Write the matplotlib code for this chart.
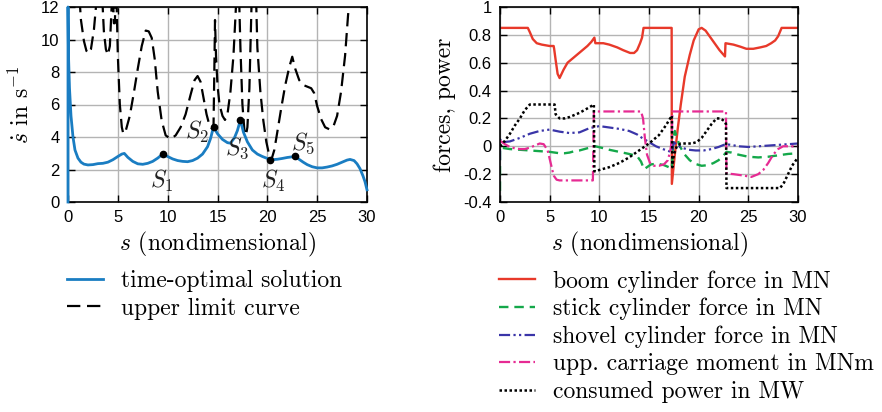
import numpy as np
import matplotlib
matplotlib.use('Agg')
import matplotlib.pyplot as plt

plt.rcParams['mathtext.fontset'] = 'cm'
plt.rcParams['axes.unicode_minus'] = False

# ---- left plot: time-optimal solution and upper limit curve
s_opt = [0, 0, 0.05, 0.15, 0.3, 0.5, 0.7, 1.0, 1.3, 1.6, 2.0, 2.5, 3.0, 3.5, 4.0, 4.5, 5.0, 5.4, 5.65,
         6.0, 6.5, 7.0, 7.5, 8.0, 8.5, 9.0, 9.5, 10.0, 10.5, 11.0, 11.5, 12.0, 12.5, 13.0, 13.5, 14.0,
         14.3, 14.6, 15.0, 15.5, 16.0, 16.3, 16.7, 17.0, 17.3, 17.6, 18.0, 18.5, 19.0, 19.5, 20.0, 20.4,
         21.0, 21.5, 22.0, 22.5, 22.8, 23.2, 23.6, 24.0, 24.5, 25.0, 25.5, 26.0, 26.5, 27.0, 27.5, 28.0,
         28.3, 28.7, 29.0, 29.3, 29.6, 29.8, 30.0]
v_opt = [0, 12, 9.0, 7.0, 5.3, 4.0, 3.2, 2.7, 2.45, 2.33, 2.28, 2.3, 2.36, 2.38, 2.45, 2.6, 2.8, 2.95, 2.99,
         2.75, 2.5, 2.35, 2.32, 2.38, 2.5, 2.7, 2.95, 2.8, 2.65, 2.55, 2.5, 2.48, 2.55, 2.7, 2.95, 3.4,
         3.9, 4.62, 4.2, 3.85, 3.65, 3.62, 3.95, 4.4, 5.05, 4.3, 3.7, 3.2, 2.95, 2.8, 2.68, 2.6,
         2.63, 2.68, 2.74, 2.78, 2.83, 2.62, 2.45, 2.3, 2.17, 2.1, 2.1, 2.15, 2.22, 2.32, 2.45, 2.58,
         2.62, 2.55, 2.35, 2.05, 1.6, 1.25, 0.75]

s_lim = [1.1, 1.3, 1.6, 1.85, 2.05, 2.3, 2.6, 2.95, np.nan,
         3.4, 3.6, 3.8, 4.0, 4.2, 4.45, np.nan,
         4.5, 4.6, 4.7, 4.8, np.nan,
         4.85, 5.0, 5.2, 5.4, 5.55, 5.8, 6.2, 6.6, 7.0, 7.4, 7.8, 8.1, 8.4, 8.7, 9.0, 9.4, 9.8,
         10.3, 10.8, 11.3, 11.8, 12.3, 12.7, 13.0, 13.3, 13.6, 13.9, 14.2, 14.45, 14.6,
         14.68, 14.75, 14.85, 15.0, 15.2, 15.5, 15.75, 16.0, 16.3, 16.6, 16.85, 17.0, np.nan,
         17.15, 17.3, 17.5, 17.7, 17.85, 18.0, 18.2, 18.45, np.nan,
         18.85, 19.0, 19.3, 19.6, 19.9, 20.2, 20.4, 20.7, 21.0, 21.4, 21.8, 22.2, 22.5, 22.8, 23.2,
         23.6, 24.0, 24.4, 24.7, 25.0, 25.4, 25.8, 26.2, 26.6, 27.0, 27.4, 27.8, 28.1, 28.35]
v_lim = [13, 11.2, 9.9, 9.3, 9.15, 9.4, 10.6, 13, np.nan,
         13, 10.5, 9.4, 9.05, 9.6, 13, np.nan,
         13, 11.0, 11.0, 13, np.nan,
         13, 9.0, 6.0, 4.6, 4.2, 4.4, 5.3, 6.7, 8.2, 9.6, 10.55, 10.5, 10.1, 8.8, 6.8, 5.0, 4.1,
         3.88, 4.1, 4.6, 5.4, 6.6, 7.5, 7.75, 7.4, 6.4, 5.4, 4.7, 4.5, 4.63,
         8.0, 11.2, 9.0, 7.2, 6.0, 5.3, 5.05, 5.4, 6.8, 9.0, 12, 13, np.nan,
         13, 9.5, 6.0, 4.4, 4.1, 4.6, 7.0, 13, np.nan,
         13, 9.5, 6.8, 5.0, 3.7, 2.85, 2.58, 3.2, 4.3, 5.8, 7.2, 8.3, 8.94, 8.2, 7.5,
         7.2, 7.1, 7.0, 6.7, 5.9, 5.1, 4.6, 4.48, 4.6, 5.3, 6.8, 9.0, 11.5, 13]

pt_s = [9.5, 14.6, 17.3, 20.3, 22.8]
pt_v = [2.95, 4.62, 5.05, 2.6, 2.83]
pt_names = ['$S_1$', '$S_2$', '$S_3$', '$S_4$', '$S_5$']
pt_text = [(9.4, 1.3), (12.9, 4.3), (17.0, 3.3), (20.6, 1.3), (23.6, 3.6)]

# ---- right plot: forces and power
s_boom = [0, 2.8, 3.0, 3.3, 3.7, 4.2, 5.0, 5.4, 5.45, 5.6, 5.8, 6.0, 6.4, 6.8, 7.3, 7.8, 8.3, 8.8, 9.2, 9.5,
          9.6, 10.4, 11.0, 11.8, 12.4, 13.1, 13.5, 13.8, 14.1, 14.3, 14.45, 17.28, 17.3, 17.6, 17.9,
          18.2, 18.6, 19.1, 19.5, 20.0, 20.3, 20.7, 21.1, 21.6, 22.1, 22.65, 22.7, 23.5, 24.2, 24.8,
          25.5, 26.2, 26.8, 27.3, 27.7, 28.0, 28.35, 30]
f_boom = [0.85, 0.85, 0.82, 0.77, 0.74, 0.73, 0.72, 0.72, 0.70, 0.62, 0.52, 0.49, 0.55, 0.60, 0.63, 0.66,
          0.69, 0.72, 0.75, 0.78, 0.74, 0.74, 0.73, 0.71, 0.69, 0.67, 0.67, 0.69, 0.74, 0.78, 0.85, 0.85,
          -0.27, -0.06, 0.13, 0.30, 0.50, 0.655, 0.76, 0.84, 0.85, 0.83, 0.79, 0.74, 0.69, 0.645, 0.74,
          0.73, 0.715, 0.70, 0.70, 0.71, 0.72, 0.74, 0.76, 0.79, 0.85, 0.85]

s_stick = [0, 0, 0.1, 1, 2, 3, 4, 5, 5.5, 6, 6.5, 7, 7.5, 8, 8.5, 9, 9.6, 10.2, 11, 12, 13, 13.8, 14.2,
           14.5, 14.8, 15.2, 15.8, 16.5, 17.0, 17.3, 17.45, 17.6, 18.1, 18.6, 19.1, 19.6, 20.3, 21.0, 21.5,
           22.0, 22.4, 22.8, 23.3, 24.0, 25.0, 26.0, 27.0, 28.0, 29.0, 30]
f_stick = [-0.32, -0.01, -0.01, -0.02, -0.025, -0.03, -0.035, -0.04, -0.045, -0.05, -0.05, -0.045,
           -0.035, -0.03, -0.02, -0.01, 0.0, -0.01, -0.025, -0.04, -0.055, -0.07, -0.11, -0.165, -0.15,
           -0.13, -0.125, -0.135, -0.15, -0.16, 0.05, 0.11, 0.0, -0.06, -0.10, -0.125, -0.14, -0.135,
           -0.12, -0.10, -0.075, -0.04, -0.045, -0.06, -0.075, -0.08, -0.075, -0.065, -0.055, -0.05]

s_shov = [0, 0, 0.3, 1, 2, 3, 4, 5, 6, 7, 8, 9, 10, 11, 12, 13, 13.8, 14.3, 15, 15.7, 16.4, 17.0, 17.3,
          17.5, 17.8, 18.3, 19.0, 19.7, 20.5, 21.3, 22.0, 22.7, 23.3, 24.0, 25.0, 26.0, 27.0, 28.0, 29.0, 30]
f_shov = [-0.1, 0.05, 0.03, 0.035, 0.06, 0.09, 0.11, 0.12, 0.105, 0.095, 0.10, 0.13, 0.145, 0.135, 0.125,
          0.11, 0.085, 0.06, 0.03, 0.0, -0.02, -0.035, -0.04, 0.03, 0.01, -0.01, -0.025, -0.03, -0.03,
          -0.02, -0.005, 0.015, 0.01, 0.0, -0.005, 0.0, 0.005, 0.01, 0.015, 0.02]

s_mom = [0, 0.5, 1.0, 1.5, 2.0, 2.5, 3.0, 3.5, 4.0, 4.4, 4.8, 5.1, 5.4, 5.7, 6.0, 9.35, 9.45, 14.2, 14.4,
         14.6, 14.8, 15.1, 15.5, 16.0, 16.5, 16.9, 17.15, 17.3, 17.35, 22.75, 22.8, 23.5, 24.5, 25.3, 26.0,
         26.5, 27.0, 27.5, 28.0, 28.5, 29.0, 30]
f_mom = [0.04, 0.015, -0.005, -0.015, -0.02, -0.02, -0.01, 0.005, 0.02, 0.015, -0.03, -0.12, -0.21, -0.24,
         -0.245, -0.245, 0.25, 0.25, 0.2, 0.05, -0.06, -0.12, -0.14, -0.14, -0.13, -0.1, -0.03, 0.05, 0.25,
         0.25, -0.195, -0.2, -0.21, -0.22, -0.2, -0.17, -0.12, -0.06, -0.02, 0.0, 0.0, 0.0]

s_pow = [0, 0.5, 1.0, 1.5, 2.0, 2.5, 3.0, 5.5, 5.6, 6.0, 6.5, 7.0, 7.5, 8.0, 8.5, 9.0, 9.45, 9.5, 10.0,
         11.0, 12.0, 13.0, 14.0, 15.0, 16.0, 16.7, 17.3, 17.35, 17.5, 17.8, 18.2, 18.7, 19.3, 19.8, 20.3,
         20.8, 21.3, 21.8, 22.2, 22.6, 22.75, 22.8, 28.2, 28.6, 29.0, 29.4, 29.8, 30]
f_pow = [0.0, 0.04, 0.09, 0.15, 0.2, 0.26, 0.3, 0.3, 0.23, 0.2, 0.2, 0.21, 0.225, 0.24, 0.26, 0.28, 0.3,
         -0.18, -0.17, -0.15, -0.12, -0.08, -0.03, 0.02, 0.08, 0.15, 0.22, -0.15, -0.06, 0.0, 0.02, 0.02,
         0.02, 0.03, 0.06, 0.11, 0.16, 0.2, 0.2, 0.18, 0.16, -0.3, -0.3, -0.26, -0.2, -0.14, -0.1, -0.08]

cm = 'cmr10'
tickfont = 'Liberation Sans'

fig = plt.figure(figsize=(8.82, 4.12), dpi=100)
ax1 = fig.add_axes([68/882, 1-202/412, 299/882, 195/412])
ax2 = fig.add_axes([500/882, 1-202/412, 298/882, 195/412])

ax1.plot(s_opt, v_opt, color='#1a7dc2', lw=2.0, label='time-optimal solution', zorder=3, clip_on=False)
ax1.plot(s_lim, v_lim, color='black', lw=1.6, dashes=(6, 3), label='upper limit curve', zorder=2)
ax1.plot(pt_s, pt_v, 'o', color='black', ms=4.5, zorder=4)
for nm, (tx, ty) in zip(pt_names, pt_text):
    ax1.text(tx, ty, nm, fontsize=17, ha='center', va='center', color='#222222')
ax1.set_xlim(0, 30)
ax1.set_ylim(0, 12)
ax1.set_yticks(range(0, 13, 2))

ax2.plot(s_boom, f_boom, color='#e8392a', lw=1.7, label='boom cylinder force in MN')
ax2.plot(s_stick, f_stick, color='#14a84a', lw=1.7, dashes=(4, 2.5), label='stick cylinder force in MN')
ax2.plot(s_shov, f_shov, color='#3a35a8', lw=1.6, dashes=(5, 1.5, 1, 1.5, 1, 1.5),
         label='shovel cylinder force in MN')
ax2.plot(s_mom, f_mom, color='#e62b93', lw=1.6, dashes=(5, 1.5, 1, 1.5), label='upp. carriage moment in MNm')
ax2.plot(s_pow, f_pow, color='black', lw=1.8, dashes=(1, 1), label='consumed power in MW')
ax2.set_xlim(0, 30)
ax2.set_ylim(-0.4, 1.0)
ax2.set_yticks(np.arange(-0.4, 1.01, 0.2))
ax2.set_yticklabels(['-0.4', '-0.2', '0', '0.2', '0.4', '0.6', '0.8', '1'])

for ax in (ax1, ax2):
    ax.set_xticks(range(0, 31, 5))
    ax.grid(True, color='#b4b4b4', lw=1.0)
    ax.set_axisbelow(True)
    ax.tick_params(direction='in', top=True, right=True, length=5, width=1, pad=6, labelsize=12)
    for lab in ax.get_xticklabels() + ax.get_yticklabels():
        lab.set_family(tickfont)
    for sp in ax.spines.values():
        sp.set_linewidth(1.2)
    ax.set_xlabel('$s$ (nondimensional)', fontfamily=cm, fontsize=17, labelpad=3)
    ax.legend(loc='upper left', bbox_to_anchor=(-0.005, -0.35), frameon=False,
              prop={'family': cm, 'size': 17}, handlelength=1.55, handletextpad=0.75,
              labelspacing=0.22, borderaxespad=0, borderpad=0)

ax1.set_ylabel(r'$\dot{s}$ in s$^{-1}$', fontfamily=cm, fontsize=17, labelpad=5)
ax2.set_ylabel('forces, power', fontfamily=cm, fontsize=17, labelpad=5)

fig.savefig('out.png', dpi=100)
